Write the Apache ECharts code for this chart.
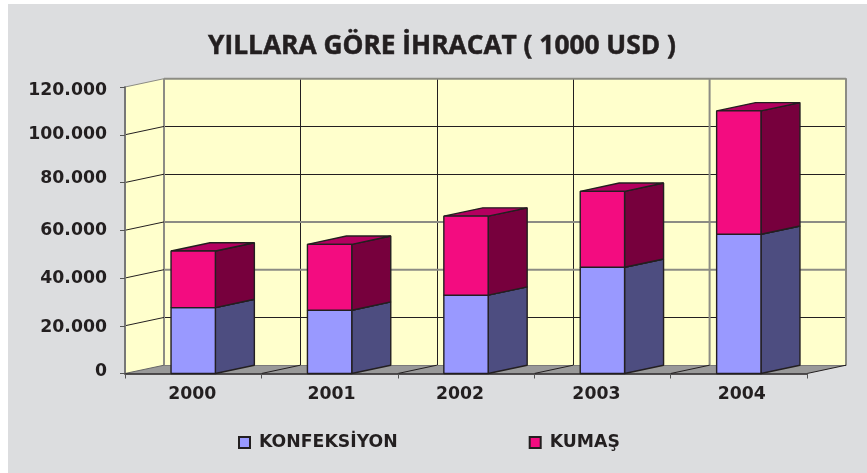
<!DOCTYPE html>
<html><head><meta charset="utf-8">
<style>html,body{margin:0;padding:0;background:#DCDDDF}#c{width:867px;height:473px}</style>
<script src="https://cdn.jsdelivr.net/npm/echarts@6/dist/echarts.min.js"></script>
</head><body><div id="c"></div>
<script>
const titleText = 'YILLARA GÖRE İHRACAT ( 1000 USD )';
const categories = ['2000','2001','2002','2003','2004'];
const konfeksiyon = [27600,26500,32800,44500,58300];
const kumas = [23700,27600,33100,31800,51700];
const yTicks = [0,20000,40000,60000,80000,100000,120000];
const heavyY = [40000,60000,120000];
const heavyX = [0,4,5];
const labelNudge = {0:-1.5,20000:1.5,40000:0.5,60000:0.5,80000:-3.5,100000:-0.5,120000:3.5};
const catNudge = [-1,2,-6,-6,3];
const GRAY='#8C8C84', INK='#231F20';
const DX=39, DY=-8.3;
const fontLab='"DejaVu Sans"';
const LAB=17.3;
const chart = echarts.init(document.getElementById('c'),null,{renderer:'canvas'});

function poly(pts,fill,stroke,w){
  return {type:'polygon',shape:{points:pts},style:{fill:fill,stroke:stroke,lineWidth:w,lineJoin:'bevel'}};
}
function line(a,b,c,w){
  return {type:'line',shape:{x1:a[0],y1:a[1],x2:b[0],y2:b[1]},style:{stroke:c,lineWidth:w,fill:null}};
}
function wallRender(params,api){
  const band=api.size([1,0])[0];
  const c0=api.coord([0,0]), cTop=api.coord([0,120000]);
  const x0=c0[0]-band/2, x1=x0+band*categories.length, yb=c0[1], yt=cTop[1];
  const ch=[];
  ch.push(poly([[x0,yb],[x0+DX,yb+DY],[x0+DX,yt+DY],[x0,yt]],'#FFFFCC',null,0));
  ch.push(poly([[x0,yb],[x1,yb],[x1+DX,yb+DY],[x0+DX,yb+DY]],'#999999',null,0));
  heavyY.forEach(v=>{
    const y=api.coord([0,v])[1]+DY;
    ch.push(line([x0+DX,y],[x1+DX,y],GRAY,2));
  });
  heavyX.forEach(i=>{
    const x=x0+band*i+DX;
    ch.push(line([x,yt+DY],[x,yb+DY],GRAY,2));
  });
  yTicks.forEach(v=>{
    const y=api.coord([0,v])[1];
    if(v===0) return;
    ch.push(line([x0,y],[x0+DX,y+DY],v===120000?GRAY:INK,1));
  });
  ch.push(line([x0,yb],[x0+DX,yb+DY],'#666',1));
  for(let i=1;i<=categories.length;i++){
    const x=x0+band*i;
    ch.push(line([x,yb],[x+DX,yb+DY],INK,1));
  }
  return {type:'group',children:ch};
}
function barRender(front,side,top){
  return function(params,api){
    const i=api.value(0), base=api.value(1), h=api.value(2);
    const p0=api.coord([i,base]), p1=api.coord([i,base+h]);
    const w=api.size([1,0])[0]*0.325;
    const l=p0[0]-w/2, r=p0[0]+w/2, yb=p0[1], yt=p1[1];
    const S=INK, W=1.4;
    return {type:'group',children:[
      poly([[r,yb],[r+DX,yb+DY],[r+DX,yt+DY],[r,yt]],side,S,W),
      poly([[l,yt],[r,yt],[r+DX,yt+DY],[l+DX,yt+DY]],top,S,W),
      poly([[l,yb],[r,yb],[r,yt],[l,yt]],front,S,W)
    ]};
  };
}
const rich={};
yTicks.forEach(v=>{
  const n=labelNudge[v];
  rich['v'+v]={fontFamily:fontLab,fontWeight:'bold',fontSize:LAB,color:INK,
    padding:n>=0?[2*n,0,0,0]:[0,0,-2*n,0]};
});
const catRich={};
catNudge.forEach((n,i)=>{
  catRich['c'+i]={fontFamily:fontLab,fontWeight:'bold',fontSize:LAB,color:INK,
    padding:n>=0?[0,0,0,2*n]:[0,-2*n,0,0]};
});
chart.setOption({
  animation:false,
  backgroundColor:'#DCDDDF',
  graphic:[
    {type:'rect',left:0,top:0,z:-1,shape:{width:8,height:473},style:{fill:'#FFFFFF'}},
    {type:'rect',left:0,top:0,z:-1,shape:{width:867,height:4},style:{fill:'#FFFFFF'}}
  ],
  title:{text:titleText,left:437,top:29,textAlign:'center',
    textStyle:{fontFamily:'"Open Sans"',fontWeight:'bold',fontSize:26.3,color:INK,textBorderColor:INK,textBorderWidth:0.5}},
  legend:{left:233,top:429,icon:'rect',itemWidth:11,itemHeight:11,itemGap:131,
    data:['KONFEKSİYON','KUMAŞ'],selectedMode:false,
    textStyle:{fontFamily:fontLab,fontWeight:'bold',fontSize:LAB,color:INK,padding:[0,0,0,4]}},
  grid:[
    {left:125,top:87,width:682,height:286.5,containLabel:false},
    {left:125+DX,top:87+DY,width:682,height:286.5,show:true,backgroundColor:'#FFFFCC',borderWidth:0,z:0}
  ],
  xAxis:[
    {type:'category',gridIndex:0,data:categories,z:5,
      axisLine:{show:true,lineStyle:{color:INK,width:1.5}},
      axisTick:{show:true,alignWithLabel:false,length:5,lineStyle:{color:'#555'}},
      axisLabel:{margin:13,rich:catRich,formatter:(v,i)=>'{c'+i+'|'+v+'}'},
      splitLine:{show:false}},
    {type:'category',gridIndex:1,data:categories,z:1,
      axisLine:{show:false},axisTick:{show:false},axisLabel:{show:false},
      splitLine:{show:true,interval:0,lineStyle:{color:INK,width:1}}}
  ],
  yAxis:[
    {type:'value',gridIndex:0,min:0,max:120000,interval:20000,z:5,
      axisLine:{show:true,lineStyle:{color:'#777',width:2}},
      axisTick:{show:true,length:5,lineStyle:{color:'#555'}},
      axisLabel:{margin:18,rich:rich,
        formatter:v=>'{v'+v+'|'+String(v).replace(/\B(?=(\d{3})+$)/g,'.')+'}'},
      splitLine:{show:false}},
    {type:'value',gridIndex:1,min:0,max:120000,interval:20000,z:1,
      axisLine:{show:false},axisTick:{show:false},axisLabel:{show:false},
      splitLine:{show:true,lineStyle:{color:INK,width:1}}}
  ],
  series:[
    {type:'custom',name:'wall',xAxisIndex:0,yAxisIndex:0,z:2,silent:true,
      data:[[0]],encode:{x:0,y:-1},renderItem:wallRender,clip:false},
    {type:'custom',name:'KONFEKSİYON',xAxisIndex:0,yAxisIndex:0,z:3,clip:false,
      itemStyle:{color:'#9999FF',borderColor:INK,borderWidth:1.5},
      data:categories.map((c,i)=>[i,0,konfeksiyon[i]]),
      renderItem:barRender('#9999FF','#4D4D80','#7A7AD0')},
    {type:'custom',name:'KUMAŞ',xAxisIndex:0,yAxisIndex:0,z:4,clip:false,
      itemStyle:{color:'#F30C80',borderColor:INK,borderWidth:1.5},
      data:categories.map((c,i)=>[i,konfeksiyon[i],kumas[i]]),
      renderItem:barRender('#F30C80','#77003D','#B4005F')}
  ]
});
</script></body></html>
